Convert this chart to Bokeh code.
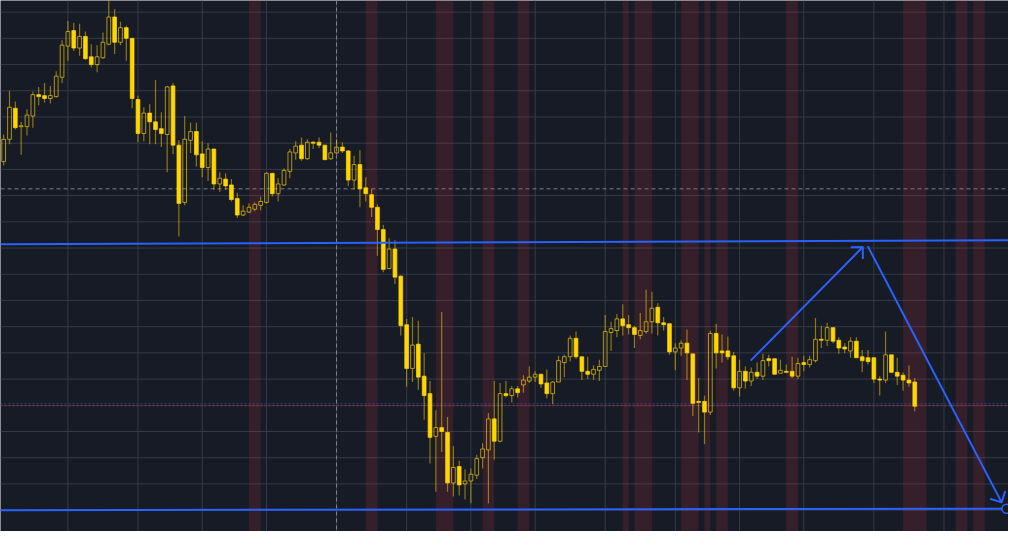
import math
import numpy as np
from bokeh.plotting import figure
from bokeh.models import Range1d, Span
from bokeh.embed import file_html
from bokeh.resources import INLINE

# ---------------- data (price units) ----------------
opens = [381, 404, 436, 417, 417, 428, 450, 449, 446, 448,
         468, 500, 516, 498, 510, 489, 481, 488, 502, 530,
         504, 519, 508, 445, 410, 431, 422, 415, 409, 459,
         398, 339, 403, 412, 389, 375, 394, 358, 363, 357,
         343, 326, 329, 332, 336, 339, 369, 348, 357, 371,
         390, 398, 384, 401, 401, 398, 384, 390, 396, 392,
         362, 378, 354, 347, 334, 311, 271, 291, 263, 213,
         168, 193, 160, 142, 98, 107, 102, 50, 67, 49,
         52, 58, 76, 84, 116, 93, 142, 140, 147, 151,
         155, 159, 162, 153, 142, 154, 174, 180, 199, 180,
         165, 162, 166, 170, 205, 207, 219, 213, 210, 202,
         206, 216, 231, 215, 214, 185, 189, 194, 183, 134,
         134, 123, 204, 186, 186, 181, 148, 165, 155, 164,
         160, 178, 178, 163, 165, 165, 160, 174, 172, 176,
         198, 197, 210, 197, 190, 186, 196, 180, 179, 179,
         157, 156, 182, 164, 161, 156, 154]
closes = [404, 437, 416, 418, 429, 450, 448, 446, 449, 469,
          501, 515, 498, 510, 487, 481, 489, 504, 530, 504,
          519, 508, 446, 410, 431, 422, 414, 410, 458, 398,
          338, 404, 412, 388, 375, 394, 358, 364, 356, 342,
          326, 330, 334, 337, 340, 369, 348, 358, 372, 391,
          397, 384, 401, 400, 398, 383, 390, 396, 392, 362,
          378, 353, 348, 334, 311, 270, 291, 262, 212, 168,
          192, 159, 140, 97, 107, 103, 50, 66, 48, 52,
          59, 75, 85, 116, 93, 142, 140, 147, 143, 156,
          159, 162, 152, 142, 154, 176, 180, 199, 180, 165,
          162, 167, 170, 206, 209, 219, 212, 210, 203, 207,
          216, 230, 215, 213, 185, 189, 194, 184, 132, 133,
          123, 204, 184, 184, 180, 148, 165, 155, 164, 160,
          176, 176, 162, 166, 164, 160, 173, 172, 177, 198,
          197, 210, 196, 189, 188, 196, 179, 176, 175, 157,
          156, 182, 164, 160, 156, 153, 129]
highs = [409, 454, 443, 422, 435, 453, 458, 462, 459, 474,
         506, 526, 524, 523, 515, 502, 501, 514, 550, 538,
         525, 521, 508, 449, 437, 440, 465, 432, 459, 462,
         403, 428, 421, 421, 402, 400, 394, 370, 369, 363,
         349, 336, 338, 339, 345, 370, 369, 364, 374, 394,
         402, 406, 404, 402, 406, 398, 411, 404, 401, 393,
         387, 393, 365, 353, 337, 316, 302, 300, 264, 219,
         221, 217, 184, 155, 125, 226, 118, 88, 73, 64,
         65, 79, 91, 122, 155, 153, 155, 150, 150, 161,
         170, 165, 162, 167, 155, 181, 182, 202, 206, 180,
         180, 171, 177, 223, 216, 224, 234, 223, 212, 225,
         249, 247, 235, 221, 215, 194, 197, 208, 183, 158,
         140, 207, 214, 203, 201, 185, 177, 170, 169, 174,
         183, 182, 178, 177, 172, 180, 179, 181, 181, 220,
         212, 215, 210, 200, 194, 200, 200, 187, 187, 179,
         160, 206, 182, 179, 164, 171, 158]
lows = [377, 399, 414, 388, 408, 416, 439, 442, 441, 447,
        462, 485, 495, 490, 486, 478, 473, 487, 501, 492,
        501, 485, 436, 401, 402, 399, 399, 396, 370, 389,
        304, 336, 390, 376, 365, 361, 352, 350, 352, 340,
        323, 325, 328, 330, 331, 338, 345, 340, 356, 364,
        383, 382, 383, 394, 395, 383, 383, 389, 390, 356,
        352, 334, 340, 324, 284, 267, 270, 255, 202, 149,
        154, 146, 115, 70, 41, 82, 41, 36, 37, 33,
        29, 54, 65, 29, 74, 92, 138, 133, 138, 143,
        153, 154, 148, 137, 131, 154, 159, 175, 178, 156,
        157, 156, 155, 170, 186, 200, 202, 203, 189, 198,
        204, 204, 202, 207, 182, 166, 181, 156, 119, 102,
        90, 120, 168, 174, 177, 145, 139, 147, 150, 157,
        156, 170, 162, 163, 163, 158, 157, 165, 169, 174,
        189, 191, 194, 183, 184, 179, 179, 164, 172, 153,
        140, 153, 163, 151, 145, 149, 124]

# time grid (bar index) and price grid levels
grid_x = [11, 23, 34, 45, 57, 69, 80, 91, 103, 115, 126, 137, 149, 161]
grid_y = [535, 508, 481, 454, 427, 400, 373, 346, 319, 292,
          265, 238, 211, 184, 157, 130, 103, 76, 49, 22]

# highlighted sessions (bar index ranges)
band_start = [42, 62, 74, 82, 88, 106, 108, 116, 120, 122, 134, 154, 163, 166]
band_end = [44, 64, 77, 84, 90, 107, 111, 119, 121, 124, 136, 158, 165, 168]

# crosshair and price-line levels
cross_x = 57
cross_y = 353
bid_line = 132
ask_line = 129.5

# drawings (bar index, price)
upper_line_x = [-0.54, 172.05]
upper_line_p = [296, 300]
lower_line_x = [-0.54, 171.7]
lower_line_p = [22, 23.5]
arrow1_x = [127.9, 147.1]
arrow1_p = [176, 293]
arrow2_x = [147.95, 170.87]
arrow2_p = [294, 30]

# ---------------- figure ----------------
BG = "#171b26"
GOLD = "#ffd600"
BLUE = "#2962ff"
W, H = 1008, 531
X0, X1 = -0.54, 172.05
Y0, Y1 = 0, 547

p = figure(width=W, height=H, x_range=Range1d(X0, X1), y_range=Range1d(Y0, Y1),
           x_axis_location=None, y_axis_location=None,
           toolbar_location=None, output_backend="svg",
           background_fill_color=BG, border_fill_color=BG,
           min_border=0, outline_line_color=None)
p.grid.visible = False

for gx in grid_x:
    p.add_layout(Span(location=gx, dimension="height", line_color="#363a45",
                      line_width=1, level="underlay"))
for gy in grid_y:
    p.add_layout(Span(location=gy, dimension="width", line_color="#363a45",
                      line_width=1, level="underlay"))

# session bands
p.quad(left=band_start, right=band_end, bottom=Y0, top=Y1,
       fill_color="#f23645", fill_alpha=0.14, line_color=None)

# crosshair
p.add_layout(Span(location=cross_x, dimension="height", line_color="#9598a1",
                  line_width=1, line_dash="4 3", line_alpha=0.8, level="underlay"))
p.add_layout(Span(location=cross_y, dimension="width", line_color="#9598a1",
                  line_width=1, line_dash="4 3", line_alpha=0.8, level="underlay"))

# price lines
p.add_layout(Span(location=bid_line, dimension="width", line_color=BLUE,
                  line_width=1, line_dash="2 2", line_alpha=0.45, level="underlay"))
p.add_layout(Span(location=ask_line, dimension="width", line_color="#f23645",
                  line_width=1, line_dash="2 2", line_alpha=0.55, level="underlay"))

# candles
o = np.array(opens, dtype=float)
c = np.array(closes, dtype=float)
hi = np.array(highs, dtype=float)
lo = np.array(lows, dtype=float)
idx = np.arange(len(o))
top = np.maximum(o, c)
bot = np.minimum(o, c)
up = c >= o
dn = ~up

p.segment(x0=idx, y0=top, x1=idx, y1=hi, line_color=GOLD, line_alpha=0.5, line_width=1.2)
p.segment(x0=idx, y0=bot, x1=idx, y1=lo, line_color=GOLD, line_alpha=0.5, line_width=1.2)

p.vbar(x=idx[up], width=0.64, bottom=bot[up], top=np.maximum(top[up], bot[up] + 1),
       fill_color=None, line_color=GOLD, line_alpha=0.65, line_width=1)
p.vbar(x=idx[dn], width=0.64, bottom=bot[dn], top=np.maximum(top[dn], bot[dn] + 1),
       fill_color=GOLD, fill_alpha=1.0, line_color=GOLD, line_alpha=0.75, line_width=1)

# drawings
p.line(upper_line_x, upper_line_p, line_color=BLUE, line_width=2)
p.line(lower_line_x, lower_line_p, line_color=BLUE, line_width=2)

sx = W / (X1 - X0)
sy = H / (Y1 - Y0)


def head(xs, ps, L=12.0):
    dx = (xs[1] - xs[0]) * sx
    dy = (ps[1] - ps[0]) * sy
    n = math.hypot(dx, dy)
    rx, ry = -dx / n, -dy / n
    hx, hy = [], []
    for a in (math.pi / 4, -math.pi / 4):
        ax = rx * math.cos(a) - ry * math.sin(a)
        ay = rx * math.sin(a) + ry * math.cos(a)
        hx.append(xs[1] + L * ax / sx)
        hy.append(ps[1] + L * ay / sy)
    return [hx[0], xs[1], hx[1]], [hy[0], ps[1], hy[1]]


for ax_, ap_ in ((arrow1_x, arrow1_p), (arrow2_x, arrow2_p)):
    p.line(ax_, ap_, line_color=BLUE, line_width=2)
    hxs, hps = head(ax_, ap_)
    p.line(hxs, hps, line_color=BLUE, line_width=2)

p.scatter(x=[lower_line_x[1]], y=[lower_line_p[1]], marker="circle", size=9,
          fill_color=BG, line_color=BLUE, line_width=1.5)

open("out.html", "w").write(file_html(p, INLINE))
